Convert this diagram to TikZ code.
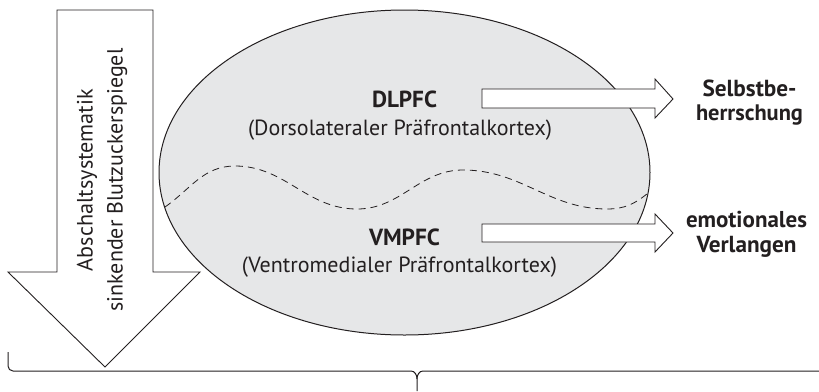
\documentclass[tikz,border=0pt]{standalone}
\usepackage{fontspec}
\usepackage{graphicx}
\setmainfont{PT Sans}
\definecolor{ellfill}{RGB}{230,231,232}
\definecolor{ink}{RGB}{35,31,32}
\begin{document}
\begin{tikzpicture}[x=1pt,y=-1pt,line join=miter,
  outl/.style={draw=ink,line width=0.9pt},
  blockarrow/.style={outl,fill=white},
  regtext/.style={text=ink,inner sep=0pt,font=\fontsize{18}{22}\selectfont},
  boldtext/.style={text=ink,inner sep=0pt,font=\fontsize{18}{22}\selectfont\bfseries},
  sidelabel/.style={text=ink,inner sep=0pt,align=center,font=\fontsize{18}{24}\selectfont\bfseries}]
\useasboundingbox (0,0) rectangle (819,391);

% big down arrow
\path[blockarrow] (57,10) -- (153,10) -- (153,272) -- (200,272) -- (105,367) -- (8,272) -- (57,272) -- cycle;
\node[regtext,rotate=90,align=center,font=\fontsize{18}{30}\selectfont] (shut) at (102,180)
  {\resizebox{182pt}{!}{Abschaltsystematik}\\\resizebox{263pt}{!}{sinkender Blutzuckerspiegel}};

% ellipse
\path[draw=ink,line width=1pt,fill=ellfill] (404.5,172.5) ellipse [x radius=245.5pt, y radius=162.5pt];

% dashed wave
\draw[ink,line width=0.8pt,dash pattern=on 7pt off 5pt]
  (165,207) to[out=35,in=180] (235,166) to[out=0,in=180] (357,209)
  to[out=0,in=180] (463,170) to[out=0,in=180] (607,209) to[out=0,in=-140] (648,193);

% texts
\node[boldtext,anchor=base] (dl) at (404.5,107) {\resizebox{65pt}{!}{DLPFC}};
\node[regtext,anchor=base] (dlf) at (400,135) {\resizebox{304pt}{!}{(Dorsolateraler Präfrontalkortex)}};
\node[boldtext,anchor=base] (vm) at (404.5,245) {\resizebox{71pt}{!}{VMPFC}};
\node[regtext,anchor=base] (vmf) at (399.5,272) {\resizebox{315pt}{!}{(Ventromedialer Präfrontalkortex)}};

\node[sidelabel] (selb) at (749.5,103) {\resizebox{94pt}{!}{Selbstbe-}\\\resizebox{107pt}{!}{herrschung}};
\node[sidelabel,font=\fontsize{18}{25}\selectfont\bfseries] (emo) at (746.5,234) {\resizebox{121pt}{!}{emotionales}\\\resizebox{100pt}{!}{Verlangen}};

% block arrows
\path[blockarrow] (482,89) -- (655,89) -- (655,79) -- (673,99) -- (655,118) -- (655,108) -- (482,108) -- cycle;
\path[blockarrow] (482,224) -- (655,224) -- (655,214) -- (673,233) -- (655,252) -- (655,242) -- (482,242) -- cycle;

% brace
\draw[ink,line width=1pt] (8,352) -- (8,366) to[out=-90,in=180] (13,371) -- (411,371)
  to[out=0,in=90] (417,379) -- (417,391);
\draw[ink,line width=1pt] (417,379) to[out=90,in=180] (423,371) -- (819,371);
\end{tikzpicture}
\end{document}
